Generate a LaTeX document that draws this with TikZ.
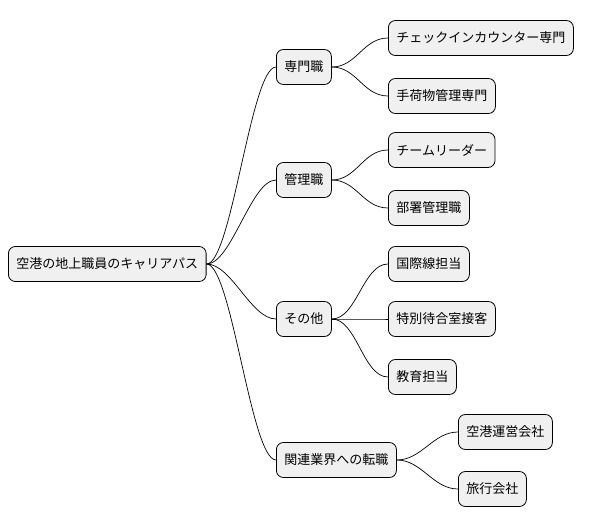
\documentclass[tikz,border=0pt]{standalone}
\usepackage{fontspec}
\setmainfont{Noto Sans CJK JP}
\tikzstyle{topic} = [rectangle, rounded corners=7pt, draw=black, fill=black!6, line width=0.8pt, anchor=west, minimum height=35pt, inner xsep=8pt, font=\fontsize{13}{15}\selectfont]
\tikzstyle{link} = [line width=0.7pt]

\begin{document}
\begin{tikzpicture}[x=1pt, y=-1pt]
	\useasboundingbox (0,0) rectangle (600,527);

	\node (root) [topic] at (8,264) {空港の地上職員のキャリアパス};

	\node (senmon) [topic] at (276,67) {専門職};
	\node (kanri) [topic] at (276,180) {管理職};
	\node (sonota) [topic] at (276,319) {その他};
	\node (tenshoku) [topic] at (276,460) {関連業界への転職};

	\node (checkin) [topic] at (388,38) {チェックインカウンター専門};
	\node (tenimotsu) [topic] at (388,96) {手荷物管理専門};
	\node (leader) [topic] at (388,150) {チームリーダー};
	\node (busho) [topic] at (388,208) {部署管理職};
	\node (kokusai) [topic] at (388,264) {国際線担当};
	\node (tokubetsu) [topic] at (388,319) {特別待合室接客};
	\node (kyoiku) [topic] at (388,377) {教育担当};
	\node (unei) [topic] at (458,432) {空港運営会社};
	\node (ryoko) [topic] at (458,489) {旅行会社};

	\foreach \a/\b in {root/senmon, root/kanri, root/sonota, root/tenshoku,
		senmon/checkin, senmon/tenimotsu, kanri/leader, kanri/busho,
		sonota/kokusai, sonota/tokubetsu, sonota/kyoiku,
		tenshoku/unei, tenshoku/ryoko}
		\draw[link] (\a.east) .. controls +(25,0) and +(-25,0) .. (\b.west);
\end{tikzpicture}
\end{document}
